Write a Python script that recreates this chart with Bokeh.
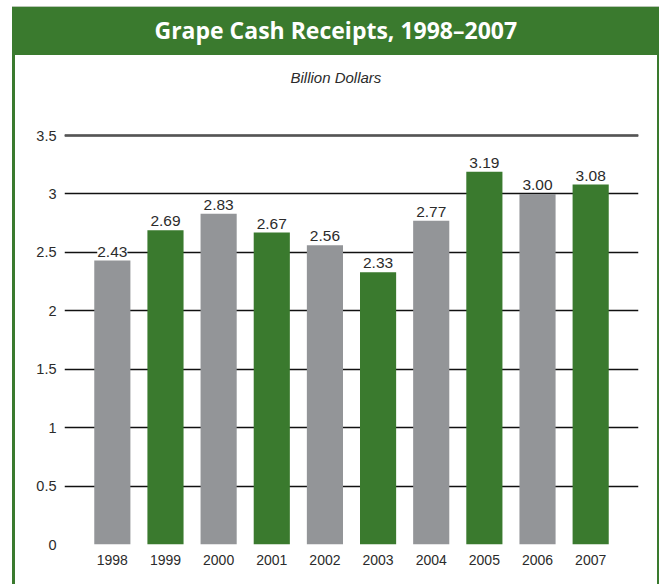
from bokeh.plotting import figure
from bokeh.models import (ColumnDataSource, FactorRange, Range1d, Title,
                          LabelSet, Span, FixedTicker)
from bokeh.core.properties import value
from bokeh.embed import file_html
from bokeh.resources import INLINE

years = ["1998", "1999", "2000", "2001", "2002", "2003", "2004", "2005", "2006", "2007"]
receipts = [2.43, 2.69, 2.83, 2.67, 2.56, 2.33, 2.77, 3.19, 3.00, 3.08]
value_labels = ["2.43", "2.69", "2.83", "2.67", "2.56", "2.33", "2.77", "3.19", "3.00", "3.08"]
y_ticks = [0, 0.5, 1, 1.5, 2, 2.5, 3, 3.5]
y_tick_labels = ["0", "0.5", "1", "1.5", "2", "2.5", "3", "3.5"]
title_text = "Grape Cash Receipts, 1998\u20132007"
unit_text = "Billion Dollars"

GREEN = "#3a7a2e"
GRAY = "#939598"
TEXT = "#2b2b2b"
FONT = "Liberation Sans"

colors = [GRAY if i % 2 == 0 else GREEN for i in range(len(years))]
src = ColumnDataSource(dict(year=years, val=receipts, lab=value_labels, col=colors))

W, H = 659, 584
g = "linear-gradient(%s,%s)" % (GREEN, GREEN)
bg = ", ".join([
    "linear-gradient(#b9c7b5,#b9c7b5) 12px 6px / 647px 1px no-repeat",
    g + " 12px 7px / 647px 48px no-repeat",
    g + " 12px 55px / 3px 529px no-repeat",
    g + " 657px 55px / 2px 529px no-repeat",
    "#ffffff",
])

p = figure(width=W, height=H, output_backend="svg", toolbar_location=None,
           x_range=FactorRange(*years, range_padding=0.08, range_padding_units="percent"),
           y_range=Range1d(0, 3.543),
           min_border_left=64, min_border_right=21, min_border_top=130, min_border_bottom=40,
           styles={"background": bg})
p.outline_line_color = None
p.background_fill_color = "white"
p.border_fill_color = None

p.vbar(x="year", top="val", width=0.68, color="col", line_color=None, source=src)

# grid
p.xgrid.grid_line_color = None
p.ygrid.ticker = FixedTicker(ticks=y_ticks)
p.ygrid.grid_line_color = "#111111"
p.ygrid.grid_line_width = 1.6
p.add_layout(Span(location=y_ticks[-1], dimension="width", line_color="#555555",
                  line_width=2.5, level="underlay"))

# axes
p.yaxis.ticker = FixedTicker(ticks=y_ticks)
p.yaxis.major_label_overrides = {t: l for t, l in zip(y_ticks, y_tick_labels)}
for ax in (p.xaxis[0], p.yaxis[0]):
    ax.axis_line_color = None
    ax.major_tick_line_color = None
    ax.minor_tick_line_color = None
    ax.major_tick_out = 0
    ax.major_tick_in = 0
    ax.major_label_text_font = FONT
    ax.major_label_text_color = TEXT
p.yaxis.major_label_text_font_size = "14.5px"
p.yaxis.major_label_standoff = 8
p.xaxis.major_label_text_font_size = "14px"
p.xaxis.major_label_standoff = 10

# value labels
p.add_layout(LabelSet(x="year", y="val", text="lab", source=src, text_align="center",
                      text_baseline="bottom", y_offset=4, text_font=value(FONT),
                      text_font_size=value("15.5px"), text_color=TEXT,
                      background_fill_color="white", level="overlay"))

# titles (stacked from the frame upward: spacer, unit line, main title)
p.add_layout(Title(text=" ", text_font_size="1px", standoff=30, text_color="white"), "above")
p.add_layout(Title(text=unit_text, align="left", offset=226, text_font=FONT,
                   text_font_style="italic", text_font_size="15px", text_color=TEXT,
                   standoff=24, vertical_align="bottom"),
             "above")
p.title = Title(text=title_text, align="left", offset=90, text_font="Open Sans",
                text_font_style="bold", text_font_size="23px", text_color="white",
                standoff=18, vertical_align="bottom")

open("out.html", "w").write(file_html(p, INLINE))
